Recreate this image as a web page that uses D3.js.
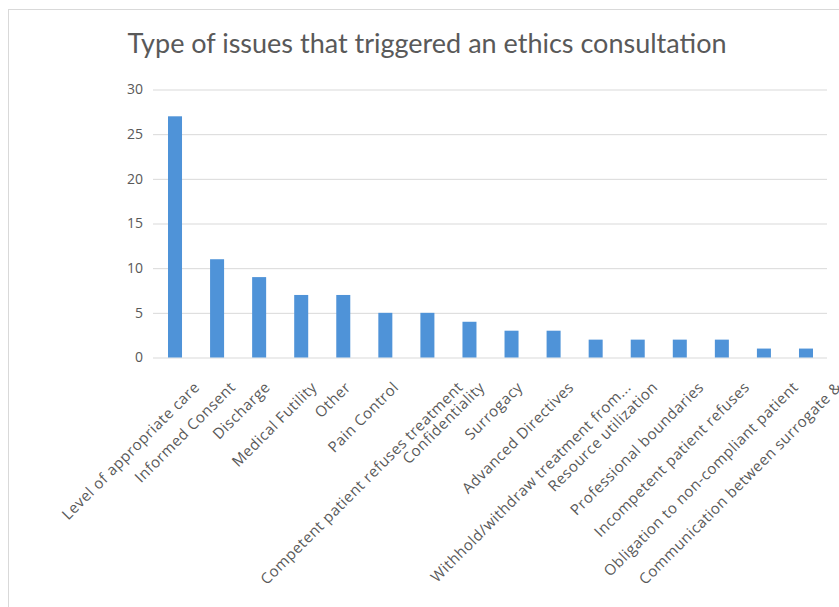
<!DOCTYPE html>
<html>
<head>
<meta charset="utf-8">
<script src="https://cdn.jsdelivr.net/npm/d3@7"></script>
<style>
  body { margin: 0; background: #fff; }
  svg { display: block; }
</style>
</head>
<body>
<svg id="chart"></svg>
<script>
const categories = [
  "Level of appropriate care", "Informed Consent", "Discharge", "Medical Futility",
  "Other", "Pain Control", "Competent patient refuses treatment", "Confidentiality",
  "Surrogacy", "Advanced Directives", "Withhold/withdraw treatment from...",
  "Resource utilization", "Professional boundaries", "Incompetent patient refuses",
  "Obligation to non-compliant patient", "Communication between surrogate &"
];
const counts = [27, 11, 9, 7, 7, 5, 5, 4, 3, 3, 2, 2, 2, 2, 1, 1];
const yTicks = [0, 5, 10, 15, 20, 25, 30];

const width = 839;
const height = 607;
const margin = { top: 89.5, right: 12, bottom: 249.5, left: 154 };
const textColor = "#595959";
const gridColor = "#d9d9d9";

const svg = d3.select("#chart")
  .attr("width", width)
  .attr("height", height);

// chart frame (only left and top edges visible)
svg.append("rect")
  .attr("x", 8.5)
  .attr("y", 9.5)
  .attr("width", 900)
  .attr("height", 700)
  .attr("fill", "none")
  .attr("stroke", gridColor);

svg.append("text")
  .attr("x", 427)
  .attr("y", 53)
  .attr("text-anchor", "middle")
  .style("font-family", "Lato, 'Open Sans', sans-serif")
  .style("font-size", "27px")
  .style("fill", textColor)
  .text("Type of issues that triggered an ethics consultation");

const x = d3.scaleBand()
  .domain(categories)
  .range([margin.left, width - margin.right])
  .paddingInner(0.667)
  .paddingOuter(0.333);

const y = d3.scaleLinear()
  .domain([0, 30])
  .range([height - margin.bottom, margin.top]);

// gridlines + y labels
const yAxis = svg.append("g")
  .attr("transform", `translate(${margin.left - 1},0)`)
  .call(d3.axisLeft(y)
    .tickValues(yTicks)
    .tickSize(-(width - margin.right - margin.left + 1))
    .tickPadding(10));
yAxis.select(".domain").remove();
yAxis.selectAll(".tick line").attr("stroke", gridColor);
yAxis.selectAll(".tick text")
  .style("font-family", "'Open Sans', sans-serif")
  .style("font-size", "14px")
  .attr("fill", textColor);

svg.append("g")
  .selectAll("rect")
  .data(counts)
  .join("rect")
  .attr("x", (d, i) => x(categories[i]))
  .attr("y", d => y(d))
  .attr("width", x.bandwidth())
  .attr("height", d => y(0) - y(d))
  .attr("fill", "#4f93d8");

// category labels, rotated; longer labels drift right a little like Excel does
const labels = svg.append("g")
  .selectAll("text")
  .data(categories)
  .join("text")
  .attr("text-anchor", "end")
  .attr("dy", "0.35em")
  .style("font-family", "'Open Sans', sans-serif")
  .style("font-size", "15px")
  .style("letter-spacing", "0.5px")
  .style("fill", textColor)
  .text(d => d);

labels.attr("transform", function(d) {
  const len = this.getComputedTextLength();
  const cx = x(d) + x.bandwidth() / 2 + 3 + 0.12 * Math.max(0, len - 30);
  return `translate(${cx},${y(0) + 27}) rotate(-45)`;
});
</script>
</body>
</html>
